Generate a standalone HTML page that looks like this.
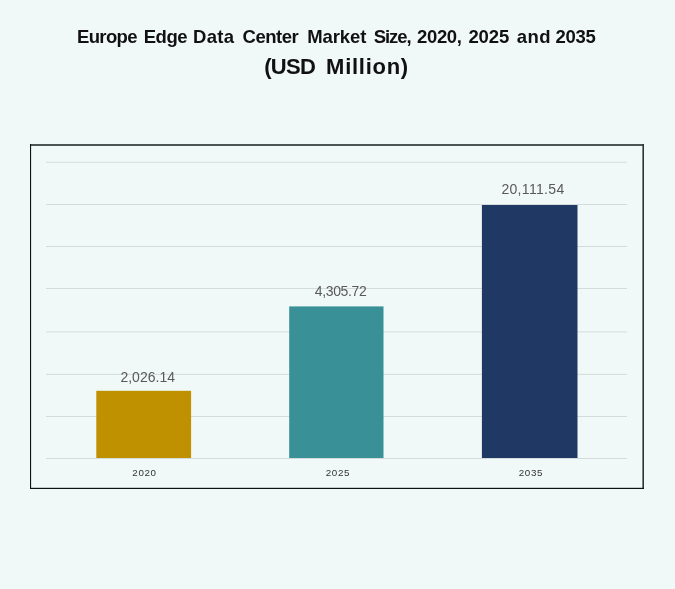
<!DOCTYPE html>
<html><head><meta charset="utf-8">
<style>
html,body{margin:0;padding:0;}
body{width:675px;height:589px;background:#f1f9f8;position:relative;overflow:hidden;font-family:"Liberation Sans",sans-serif;}
.abs{position:absolute;}
.t1{left:0;width:675px;top:25.6px;height:22px;font-weight:bold;font-size:18.5px;line-height:22px;color:#111;white-space:nowrap;}
.t2{left:0;width:675px;top:52.5px;transform:translateY(0.5px);will-change:transform;height:26px;font-weight:bold;font-size:22px;line-height:26px;color:#111;white-space:nowrap;}
.t1 span,.t2 span{position:absolute;top:0;}
.v{font-size:14px;line-height:14px;color:#595959;text-align:left;white-space:nowrap;}
.x{font-size:9.8px;line-height:12px;color:#333;text-align:left;white-space:nowrap;letter-spacing:0.65px;transform:translateY(-0.4px);}
</style></head><body>
<div class="abs t1"><span style="left:77px;letter-spacing:-0.65px">Europe</span> <span style="left:143.7px;letter-spacing:-0.45px">Edge</span> <span style="left:193px;letter-spacing:0.33px">Data</span> <span style="left:242.5px;letter-spacing:-0.48px">Center</span> <span style="left:307.3px;letter-spacing:-0.12px">Market</span> <span style="left:373.7px;letter-spacing:-1.05px">Size,</span> <span style="left:417.1px;letter-spacing:-0.39px">2020,</span> <span style="left:468.4px;letter-spacing:-0.12px">2025</span> <span style="left:516.7px;letter-spacing:0.51px">and</span> <span style="left:555.6px;letter-spacing:-0.36px">2035</span></div>
<div class="abs t2"><span style="left:264.3px;letter-spacing:-0.76px">(USD</span> <span style="left:326.1px;letter-spacing:0.72px">Million)</span></div>
<svg class="abs" style="left:0;top:0" width="675" height="589" viewBox="0 0 675 589">
<g fill="#d4dbdb">
<rect x="46" y="161.75" width="581" height="1"/>
<rect x="46" y="204" width="581" height="1"/>
<rect x="46" y="246" width="581" height="1"/>
<rect x="46" y="288" width="581" height="1"/>
<rect x="46" y="331.4" width="581" height="1"/>
<rect x="46" y="373.85" width="581" height="1"/>
<rect x="46" y="416" width="581" height="1"/>
<rect x="46" y="458" width="581" height="1"/>
</g>
<rect x="96.3" y="390.8" width="94.8" height="67.2" fill="#bf9000"/>
<rect x="289.2" y="306.4" width="94.3" height="151.6" fill="#3a9097"/>
<rect x="481.9" y="205" width="95.6" height="253" fill="#203864"/>
<rect x="30" y="144" width="614" height="2" fill="#4d5454"/>
<rect x="642.4" y="144" width="1.6" height="345" fill="#2e3535"/>
<rect x="30" y="487.8" width="614" height="1.2" fill="#0d1212"/>
<rect x="30" y="144" width="1.1" height="345" fill="#0d1212"/>
</svg>
<div class="abs v" style="left:120.4px;top:369.6px;letter-spacing:0.02px;transform:translateY(-0.45px)">2,026.14</div>
<div class="abs v" style="left:314.8px;top:283.6px;letter-spacing:-0.36px">4,305.72</div>
<div class="abs v" style="left:501.4px;top:182.6px;letter-spacing:0.33px;transform:translateY(-0.8px)">20,111.54</div>
<div class="abs x" style="left:132.3px;top:466.6px">2020</div>
<div class="abs x" style="left:325.7px;top:466.6px">2025</div>
<div class="abs x" style="left:518.7px;top:466.6px">2035</div>
</body></html>
